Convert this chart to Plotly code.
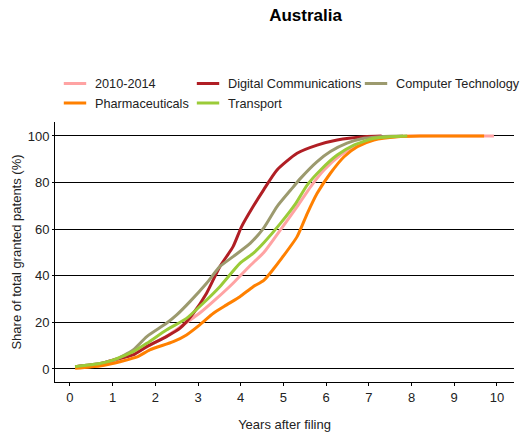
import plotly.graph_objects as go

# Cumulative share of granted patents by years after filing (Australia)
series_names = ["2010-2014", "Digital Communications", "Computer Technology",
                "Pharmaceuticals", "Transport"]
series_colors = ["#FFA3A3", "#B01E24", "#9C9A6E", "#FF8000", "#9BCB38"]

years_all = [0.12, 0.7, 1.02, 1.48, 1.8, 2.26, 2.58, 3.04, 3.45, 3.82, 4.2,
             4.54, 4.93, 5.32, 5.64, 5.95, 6.34, 6.73, 7.2, 7.6, 8.0, 9.93]
share_all = [0.8, 2.0, 3.5, 6.5, 9.5, 14.0, 18.0, 24.0, 30.5, 36.8, 44.0,
             50.0, 59.7, 69.7, 78.3, 85.4, 91.8, 96.1, 99.0, 99.7, 100, 100]

years_digital = [0.12, 0.7, 1.02, 1.48, 1.8, 2.26, 2.58, 2.89, 3.2, 3.51, 3.82,
                 4.02, 4.29, 4.54, 4.85, 5.32, 5.79, 6.26, 6.89, 7.3]
share_digital = [1.0, 2.2, 3.9, 6.0, 9.6, 13.9, 17.5, 23.9, 32.5, 43.9, 52.5,
                 61.1, 69.7, 77.0, 85.4, 92.6, 96.1, 98.3, 99.7, 100]

years_computer = [0.12, 0.7, 1.05, 1.48, 1.8, 2.26, 2.5, 2.81, 3.2, 3.51, 3.82,
                  4.22, 4.54, 4.85, 5.17, 5.4, 5.79, 6.1, 6.49, 6.89, 7.35, 7.8]
share_computer = [1.0, 2.4, 3.9, 8.2, 13.9, 19.6, 23.2, 28.9, 36.8, 43.9, 48.2,
                  53.9, 60.6, 69.7, 76.8, 81.8, 89.0, 93.3, 96.9, 99.0, 99.8, 100]

years_pharma = [0.12, 0.7, 0.94, 1.17, 1.59, 1.87, 2.42, 2.73, 3.04, 3.36, 3.67,
                3.98, 4.29, 4.54, 4.78, 4.93, 5.32, 5.56, 5.79, 6.1, 6.42, 6.73,
                7.12, 7.67, 8.2, 9.7]
share_pharma = [0.3, 1.3, 2.1, 3.1, 5.3, 8.2, 11.7, 14.6, 18.9, 23.9, 27.5,
                31.0, 35.3, 38.0, 43.2, 46.8, 56.8, 66.8, 75.4, 84.0, 91.1, 95.4,
                98.3, 99.7, 100, 100]

years_transport = [0.12, 0.7, 1.02, 1.48, 1.8, 2.26, 2.73, 3.12, 3.51, 3.98, 4.29,
                   4.54, 4.93, 5.29, 5.56, 5.87, 6.26, 6.65, 7.12, 7.5, 7.9]
share_transport = [1.0, 2.3, 3.9, 7.4, 11.0, 16.7, 21.7, 28.2, 35.3, 45.3, 49.6,
                   54.2, 62.5, 71.1, 79.0, 85.4, 91.8, 96.1, 99.0, 99.7, 100]

x_ticks = list(range(0, 11))
y_ticks = [0, 20, 40, 60, 80, 100]

xs = [years_all, years_digital, years_computer, years_pharma, years_transport]
ys = [share_all, share_digital, share_computer, share_pharma, share_transport]
legend_ids = ["legend", "legend2", "legend3", "legend", "legend2"]

fig = go.Figure()
for name, color, x, y in zip(series_names, series_colors, xs, ys):
    fig.add_trace(go.Scatter(x=x, y=y, mode="lines", name=name, showlegend=False,
                             line=dict(color=color, width=3, shape="spline",
                                       smoothing=0.6)))

# Legend keys: short horizontal dashes, one per series, split over three columns
for name, color, lg in zip(series_names, series_colors, legend_ids):
    fig.add_trace(go.Scatter(x=[None], y=[None], mode="markers", name=name,
                             legend=lg, hoverinfo="skip",
                             marker=dict(symbol="line-ew", size=20, color=color,
                                         line=dict(color=color, width=3))))

base_font = dict(family="Liberation Sans, Arial, sans-serif", size=13, color="#222222")
tick_font = dict(family="Liberation Sans Narrow, Arial Narrow, Liberation Sans, sans-serif",
                 size=13, color="#222222")
legend_common = dict(orientation="v", xanchor="left", yanchor="top",
                     bgcolor="rgba(0,0,0,0)", tracegroupgap=0, itemwidth=30,
                     font=dict(family="Liberation Sans, Arial, sans-serif", size=12.7,
                               color="#222222"))

fig.update_layout(
    width=528, height=441,
    margin=dict(l=55, r=14, t=122, b=59, autoexpand=False),
    paper_bgcolor="white", plot_bgcolor="white",
    font=base_font,
    title=dict(text="<b>Australia</b>", x=305.5 / 528, xanchor="center",
               y=1 - 15 / 441, yanchor="middle",
               font=dict(family="Liberation Sans, Arial, sans-serif", size=17, color="#000000")),
    legend=dict(x=0.0, y=1.205, **legend_common),
    legend2=dict(x=0.2898, y=1.205, **legend_common),
    legend3=dict(x=0.6558, y=1.205, **legend_common),
    xaxis=dict(range=[-0.35, 10.40], tickvals=x_ticks, ticktext=[str(v) for v in x_ticks],
               showgrid=False, zeroline=False, showline=True, linecolor="#000000",
               linewidth=1, ticks="outside", ticklen=3, tickcolor="#000000",
               tickfont=tick_font,
               title=dict(text="Years after filing", font=base_font, standoff=16)),
    xaxis2=dict(range=[-0.35, 10.40], overlaying="x", anchor="y", side="bottom",
                tickvals=x_ticks, showticklabels=False, showgrid=False, zeroline=False,
                showline=False, ticks="inside", ticklen=3, tickcolor="#000000"),
    yaxis=dict(range=[-5.6, 106], tickvals=y_ticks, showgrid=True, gridcolor="#000000",
               gridwidth=1, zeroline=False, showline=True, linecolor="#000000",
               linewidth=1, ticks="outside", ticklen=2, tickcolor="#000000",
               tickfont=tick_font,
               title=dict(text="Share of total granted patents (%)", font=base_font,
                          standoff=3)),
)

fig.write_html("out.html")
